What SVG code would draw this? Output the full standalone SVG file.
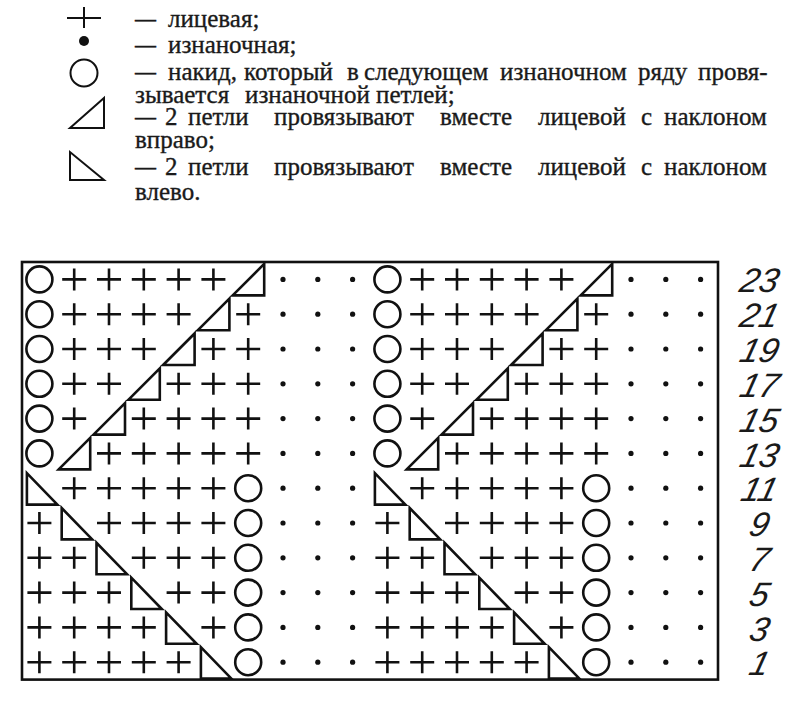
<svg xmlns="http://www.w3.org/2000/svg" width="800" height="705" viewBox="0 0 800 705">
<style>
.lg{font-family:"Liberation Serif","Times New Roman",serif;font-size:25px;fill:#1a1a1a;stroke:#1a1a1a;stroke-width:0.35}
.num{font-family:"Liberation Sans",Arial,sans-serif;font-style:italic;font-size:34px;fill:#1a1a1a;text-anchor:middle}
.sym{fill:none;stroke:#111;stroke-width:2.6}
.lsym{fill:none;stroke:#111;stroke-width:2}
</style>
<defs>
<path id="p" class="sym" d="M-12,0H12M0,-11V11"/>
<circle id="o" class="sym" r="13"/>
<circle id="d" r="2.6" fill="#111"/>
<polygon id="R" class="sym" points="-15.5,16 16,-15.5 16,16"/>
<polygon id="L" class="sym" points="-12.5,-15 -12.5,16.4 18,16.4"/>
<g id="half">
<g id="r23"><use href="#o" x="39.4" y="279.4"/><use href="#p" x="74.2" y="279.4"/><use href="#p" x="109" y="279.4"/><use href="#p" x="143.8" y="279.4"/><use href="#p" x="178.6" y="279.4"/><use href="#p" x="213.4" y="279.4"/><use href="#R" x="248.2" y="279.4"/><use href="#d" x="283" y="279.4"/><use href="#d" x="317.8" y="279.4"/><use href="#d" x="352.6" y="279.4"/></g>
<g id="r21"><use href="#o" x="39.4" y="314.2"/><use href="#p" x="74.2" y="314.2"/><use href="#p" x="109" y="314.2"/><use href="#p" x="143.8" y="314.2"/><use href="#p" x="178.6" y="314.2"/><use href="#R" x="213.4" y="314.2"/><use href="#p" x="248.2" y="314.2"/><use href="#d" x="283" y="314.2"/><use href="#d" x="317.8" y="314.2"/><use href="#d" x="352.6" y="314.2"/></g>
<g id="r19"><use href="#o" x="39.4" y="349"/><use href="#p" x="74.2" y="349"/><use href="#p" x="109" y="349"/><use href="#p" x="143.8" y="349"/><use href="#R" x="178.6" y="349"/><use href="#p" x="213.4" y="349"/><use href="#p" x="248.2" y="349"/><use href="#d" x="283" y="349"/><use href="#d" x="317.8" y="349"/><use href="#d" x="352.6" y="349"/></g>
<g id="r17"><use href="#o" x="39.4" y="383.8"/><use href="#p" x="74.2" y="383.8"/><use href="#p" x="109" y="383.8"/><use href="#R" x="143.8" y="383.8"/><use href="#p" x="178.6" y="383.8"/><use href="#p" x="213.4" y="383.8"/><use href="#p" x="248.2" y="383.8"/><use href="#d" x="283" y="383.8"/><use href="#d" x="317.8" y="383.8"/><use href="#d" x="352.6" y="383.8"/></g>
<g id="r15"><use href="#o" x="39.4" y="418.6"/><use href="#p" x="74.2" y="418.6"/><use href="#R" x="109" y="418.6"/><use href="#p" x="143.8" y="418.6"/><use href="#p" x="178.6" y="418.6"/><use href="#p" x="213.4" y="418.6"/><use href="#p" x="248.2" y="418.6"/><use href="#d" x="283" y="418.6"/><use href="#d" x="317.8" y="418.6"/><use href="#d" x="352.6" y="418.6"/></g>
<g id="r13"><use href="#o" x="39.4" y="453.4"/><use href="#R" x="74.2" y="453.4"/><use href="#p" x="109" y="453.4"/><use href="#p" x="143.8" y="453.4"/><use href="#p" x="178.6" y="453.4"/><use href="#p" x="213.4" y="453.4"/><use href="#p" x="248.2" y="453.4"/><use href="#d" x="283" y="453.4"/><use href="#d" x="317.8" y="453.4"/><use href="#d" x="352.6" y="453.4"/></g>
<g id="r11"><use href="#L" x="39.4" y="488.2"/><use href="#p" x="74.2" y="488.2"/><use href="#p" x="109" y="488.2"/><use href="#p" x="143.8" y="488.2"/><use href="#p" x="178.6" y="488.2"/><use href="#p" x="213.4" y="488.2"/><use href="#o" x="248.2" y="488.2"/><use href="#d" x="283" y="488.2"/><use href="#d" x="317.8" y="488.2"/><use href="#d" x="352.6" y="488.2"/></g>
<g id="r9"><use href="#p" x="39.4" y="523"/><use href="#L" x="74.2" y="523"/><use href="#p" x="109" y="523"/><use href="#p" x="143.8" y="523"/><use href="#p" x="178.6" y="523"/><use href="#p" x="213.4" y="523"/><use href="#o" x="248.2" y="523"/><use href="#d" x="283" y="523"/><use href="#d" x="317.8" y="523"/><use href="#d" x="352.6" y="523"/></g>
<g id="r7"><use href="#p" x="39.4" y="557.8"/><use href="#p" x="74.2" y="557.8"/><use href="#L" x="109" y="557.8"/><use href="#p" x="143.8" y="557.8"/><use href="#p" x="178.6" y="557.8"/><use href="#p" x="213.4" y="557.8"/><use href="#o" x="248.2" y="557.8"/><use href="#d" x="283" y="557.8"/><use href="#d" x="317.8" y="557.8"/><use href="#d" x="352.6" y="557.8"/></g>
<g id="r5"><use href="#p" x="39.4" y="592.6"/><use href="#p" x="74.2" y="592.6"/><use href="#p" x="109" y="592.6"/><use href="#L" x="143.8" y="592.6"/><use href="#p" x="178.6" y="592.6"/><use href="#p" x="213.4" y="592.6"/><use href="#o" x="248.2" y="592.6"/><use href="#d" x="283" y="592.6"/><use href="#d" x="317.8" y="592.6"/><use href="#d" x="352.6" y="592.6"/></g>
<g id="r3"><use href="#p" x="39.4" y="627.4"/><use href="#p" x="74.2" y="627.4"/><use href="#p" x="109" y="627.4"/><use href="#p" x="143.8" y="627.4"/><use href="#L" x="178.6" y="627.4"/><use href="#p" x="213.4" y="627.4"/><use href="#o" x="248.2" y="627.4"/><use href="#d" x="283" y="627.4"/><use href="#d" x="317.8" y="627.4"/><use href="#d" x="352.6" y="627.4"/></g>
<g id="r1"><use href="#p" x="39.4" y="662.2"/><use href="#p" x="74.2" y="662.2"/><use href="#p" x="109" y="662.2"/><use href="#p" x="143.8" y="662.2"/><use href="#p" x="178.6" y="662.2"/><use href="#L" x="213.4" y="662.2"/><use href="#o" x="248.2" y="662.2"/><use href="#d" x="283" y="662.2"/><use href="#d" x="317.8" y="662.2"/><use href="#d" x="352.6" y="662.2"/></g>
</g>
</defs>
<rect width="800" height="705" fill="#ffffff"/>
<g id="legend">
<g id="leg-knit"><path class="lsym" d="M67,18H101M84,7V28"/><text class="lg" x="135" y="27" textLength="21" lengthAdjust="spacingAndGlyphs">—</text><text class="lg" x="168" y="27">лицевая;</text></g>
<g id="leg-purl"><circle cx="84" cy="41" r="5" fill="#111"/><text class="lg" x="135" y="53" textLength="21" lengthAdjust="spacingAndGlyphs">—</text><text class="lg" x="168" y="53">изнаночная;</text></g>
<g id="leg-yo"><circle class="lsym" cx="84" cy="73" r="13.5"/>
<text class="lg" x="135" y="80" textLength="21" lengthAdjust="spacingAndGlyphs">—</text><text class="lg" x="168" y="80">накид,</text><text class="lg" x="244" y="80">который</text><text class="lg" x="347" y="80">в</text><text class="lg" x="364" y="80">следующем</text><text class="lg" x="500" y="80">изнаночном</text><text class="lg" x="638" y="80">ряду</text><text class="lg" x="698" y="80">провя-</text>
<text class="lg" x="135" y="103">зывается</text><text class="lg" x="245" y="103">изнаночной</text><text class="lg" x="376" y="103">петлей;</text></g>
<g id="leg-k2tog-r"><polygon class="lsym" points="70,128 104,98 104,128"/>
<text class="lg" x="135" y="125" textLength="21" lengthAdjust="spacingAndGlyphs">—</text><text class="lg" x="165" y="125">2</text><text class="lg" x="188" y="125">петли</text><text class="lg" x="274" y="125">провязывают</text><text class="lg" x="440" y="125">вместе</text><text class="lg" x="538" y="125">лицевой</text><text class="lg" x="641" y="125">с</text><text class="lg" x="664" y="125">наклоном</text>
<text class="lg" x="135" y="148">вправо;</text></g>
<g id="leg-k2tog-l"><polygon class="lsym" points="70,152 70,180 104,180"/>
<text class="lg" x="135" y="175" textLength="21" lengthAdjust="spacingAndGlyphs">—</text><text class="lg" x="165" y="175">2</text><text class="lg" x="188" y="175">петли</text><text class="lg" x="274" y="175">провязывают</text><text class="lg" x="440" y="175">вместе</text><text class="lg" x="538" y="175">лицевой</text><text class="lg" x="641" y="175">с</text><text class="lg" x="664" y="175">наклоном</text>
<text class="lg" x="135" y="200">влево.</text></g>
</g>
<g id="chart">
<rect x="22" y="262" width="696" height="417.6" fill="none" stroke="#111" stroke-width="2.6"/>
<use href="#half"/>
<use href="#half" x="348"/>
</g>
<g id="row-numbers">
<text class="num" transform="translate(757,292) skewX(-14)">23</text>
<text class="num" transform="translate(757,327) skewX(-14)">21</text>
<text class="num" transform="translate(757,362) skewX(-14)">19</text>
<text class="num" transform="translate(757,397) skewX(-14)">17</text>
<text class="num" transform="translate(757,431.5) skewX(-14)">15</text>
<text class="num" transform="translate(757,466.5) skewX(-14)">13</text>
<text class="num" transform="translate(757,501) skewX(-14)">11</text>
<text class="num" transform="translate(757,536) skewX(-14)">9</text>
<text class="num" transform="translate(757,571) skewX(-14)">7</text>
<text class="num" transform="translate(757,605.5) skewX(-14)">5</text>
<text class="num" transform="translate(757,640.5) skewX(-14)">3</text>
<text class="num" transform="translate(757,675) skewX(-14)">1</text>
</g>
</svg>
